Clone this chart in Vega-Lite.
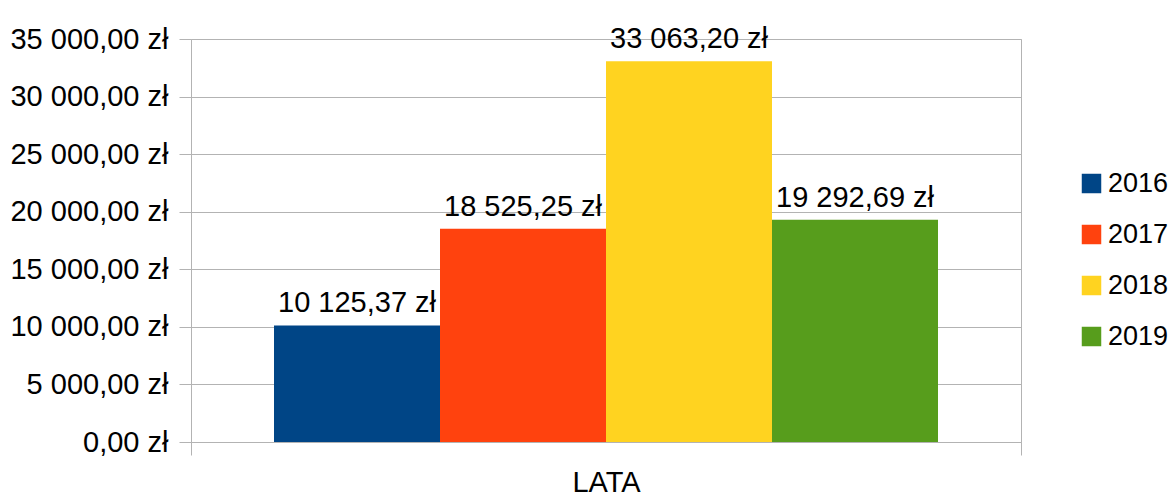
{
  "$schema": "https://vega.github.io/schema/vega-lite/v6.json",
  "width": 830,
  "height": 403,
  "autosize": {"type": "none"},
  "padding": {"left": 191, "top": 39, "right": 151, "bottom": 58},
  "config": {
    "locale": {"number": {"decimal": ",", "thousands": " ", "grouping": [3], "currency": ["", " zł"]}},
    "font": "Liberation Sans",
    "view": {"stroke": "#b3b3b3", "strokeWidth": 1}
  },
  "data": {
    "values": [
      {"kategoria": "LATA", "rok": "2016", "kwota": 10125.37},
      {"kategoria": "LATA", "rok": "2017", "kwota": 18525.25},
      {"kategoria": "LATA", "rok": "2018", "kwota": 33063.20},
      {"kategoria": "LATA", "rok": "2019", "kwota": 19292.69}
    ]
  },
  "encoding": {
    "x": {
      "field": "kategoria", "type": "nominal",
      "scale": {"paddingInner": 0, "paddingOuter": 0},
      "axis": {"title": null, "domain": false, "ticks": true, "tickBand": "extent", "tickSize": 13, "tickColor": "#b3b3b3", "labelAngle": 0, "labelFontSize": 29, "labelColor": "#000000", "labelPadding": 13, "labelFont": "Liberation Sans"}
    },
    "xOffset": {"field": "rok", "type": "nominal", "scale": {"paddingInner": 0, "paddingOuter": 0.5}},
    "y": {
      "field": "kwota", "type": "quantitative",
      "scale": {"domain": [0, 35000], "nice": false},
      "axis": {"title": null, "values": [0, 5000, 10000, 15000, 20000, 25000, 30000, 35000], "format": "$,.2f", "domain": false, "tickSize": 12, "tickColor": "#b3b3b3", "gridColor": "#b3b3b3", "labelFontSize": 29, "labelColor": "#000000", "labelPadding": 11, "labelFont": "Liberation Sans"}
    }
  },
  "layer": [
    {
      "mark": {"type": "bar"},
      "encoding": {
        "color": {
          "field": "rok", "type": "nominal",
          "scale": {"domain": ["2016", "2017", "2018", "2019"], "range": ["#004586", "#ff420e", "#ffd320", "#579d1c"]},
          "legend": {"title": null, "orient": "none", "legendX": 887, "legendY": 131, "padding": 0, "symbolType": "square", "symbolSize": 380, "symbolStrokeWidth": 0, "labelFontSize": 27, "labelColor": "#000000", "labelFont": "Liberation Sans", "labelOffset": 3, "rowPadding": 23}
        }
      }
    },
    {
      "mark": {"type": "text", "baseline": "alphabetic", "dy": -13, "fontSize": 29, "color": "#000000", "font": "Liberation Sans"},
      "encoding": {"text": {"field": "kwota", "type": "quantitative", "format": "$,.2f"}}
    }
  ]
}
